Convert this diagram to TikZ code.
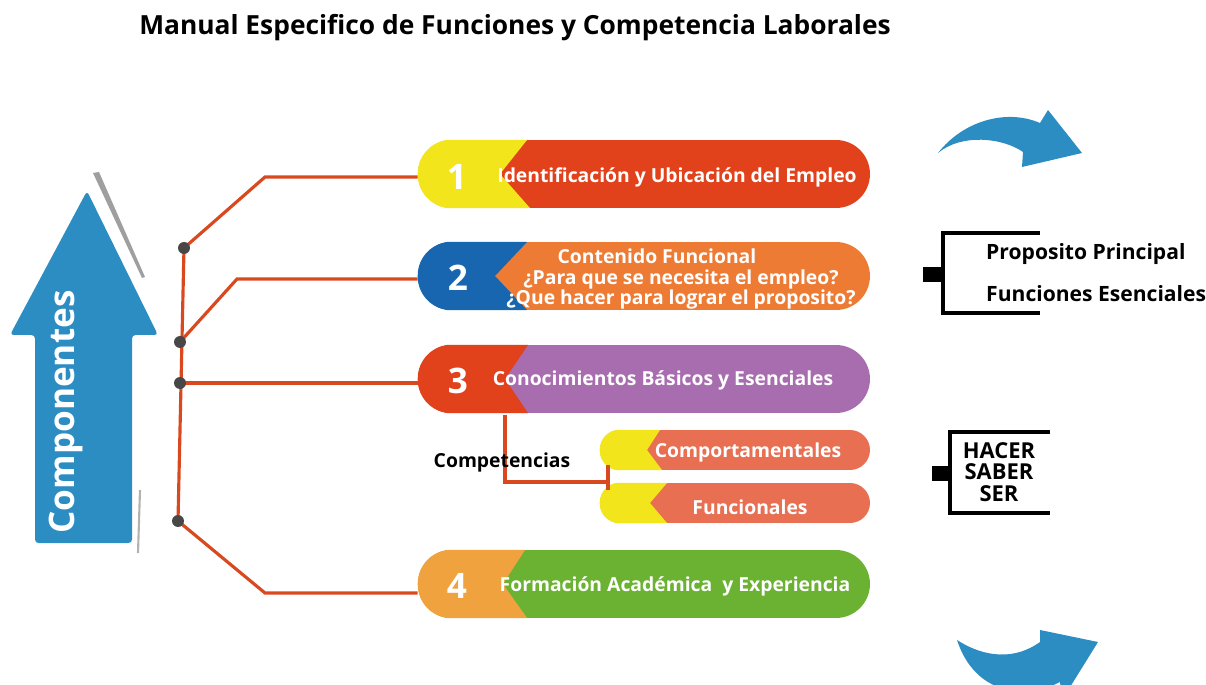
\documentclass[tikz,border=0pt]{standalone}
\usepackage{fontspec}
\setmainfont{Open Sans}
\usetikzlibrary{positioning}

\definecolor{yel}{HTML}{F3E51B}
\definecolor{redc}{HTML}{E1411B}
\definecolor{bluec}{HTML}{1866B0}
\definecolor{orangec}{HTML}{EE7B34}
\definecolor{purplec}{HTML}{A86DAF}
\definecolor{salmonc}{HTML}{E86F52}
\definecolor{ambar}{HTML}{F0A23F}
\definecolor{greenc}{HTML}{6BB232}
\definecolor{treered}{HTML}{D9491F}
\definecolor{dotgray}{HTML}{474747}
\definecolor{arrowblue}{HTML}{2C8DC3}

\begin{document}
\begin{tikzpicture}[
    x=0.02cm, y=-0.02cm,
    pill/.style={rectangle, rounded corners=0.68cm, minimum width=9.04cm, minimum height=1.36cm, inner sep=0pt},
    subpill/.style={pill, rounded corners=0.4cm, minimum width=5.4cm, minimum height=0.8cm},
    num/.style={text=white, font=\bfseries\fontsize{20}{20}\selectfont},
    ptext/.style={text=white, font=\bfseries\fontsize{11}{12.5}\selectfont, align=center},
    lbl/.style={text=black, font=\bfseries\fontsize{12}{14}\selectfont, align=center},
    tree/.style={draw=treered, line width=1.8pt},
    dot/.style={circle, fill=dotgray, inner sep=0pt, minimum size=0.24cm},
    brk/.style={draw=black, line width=1.8pt},
]
\useasboundingbox (0,0) rectangle (1206,685);

% Title
\node[font=\bfseries\fontsize{15}{17}\selectfont] (title) at (515,28) {Manual Especifico de Funciones y Competencia Laborales};

% Big arrow on the left
\fill[gray!75] (93,173) -- (99,172) -- (145,277) -- (142,278) -- cycle;
\draw[gray!60, line width=1.2pt] (140,490) -- (138,553);
\fill[arrowblue, rounded corners=2pt] (35,543) -- (35,335) -- (10,335) -- (87,191) -- (158,335) -- (132,335) -- (132,543) -- cycle;
\node[rotate=90, text=white, font=\bfseries\fontsize{20}{20}\selectfont] (comp) at (66,412) {Componentes};

% Pills
\node[pill, fill=redc] (p1) at (644,174) {};
\node[pill, fill=orangec] (p2) at (644,276) {};
\node[pill, fill=purplec] (p3) at (644,379) {};
\node[subpill, fill=salmonc] (s1) at (735,450) {};
\node[subpill, fill=salmonc] (s2) at (735,503) {};
\node[pill, fill=greenc] (p4) at (644,584) {};

% Left parts of the pills
\begin{scope}
  \clip[rounded corners=0.68cm] (p1.south west) rectangle (p1.north east);
  \fill[yel] (p1.north west) -- (527,140) -- (500,174) -- (530,208) -- (p1.south west) -- cycle;
\end{scope}
\begin{scope}
  \clip[rounded corners=0.68cm] (p2.south west) rectangle (p2.north east);
  \fill[bluec] (p2.north west) -- (527,242) -- (495,276) -- (527,310) -- (p2.south west) -- cycle;
\end{scope}
\begin{scope}
  \clip[rounded corners=0.68cm] (p3.south west) rectangle (p3.north east);
  \fill[redc] (p3.north west) -- (528,345) -- (505,379) -- (528,413) -- (p3.south west) -- cycle;
\end{scope}
\begin{scope}
  \clip[rounded corners=0.4cm] (s1.south west) rectangle (s1.north east);
  \fill[yel] (s1.north west) -- (660,430) -- (647,450) -- (662,470) -- (s1.south west) -- cycle;
\end{scope}
\begin{scope}
  \clip[rounded corners=0.4cm] (s2.south west) rectangle (s2.north east);
  \fill[yel] (s2.north west) -- (667,483) -- (650,503) -- (667,523) -- (s2.south west) -- cycle;
\end{scope}
\begin{scope}
  \clip[rounded corners=0.68cm] (p4.south west) rectangle (p4.north east);
  \fill[ambar] (p4.north west) -- (525,550) -- (503,584) -- (527,618) -- (p4.south west) -- cycle;
\end{scope}

% Numbers and texts
\node[num] (n1) at (457,177) {1};
\node[num] (n2) at (458,278) {2};
\node[num] (n3) at (458,381) {3};
\node[num] (n4) at (457,586) {4};
\node[ptext] (t1) at (677,177) {Identificación y Ubicación del Empleo};
\node[ptext, font=\bfseries\fontsize{11}{11.5}\selectfont] (t2) at (681,279) {Contenido Funcional\hspace*{0.96cm}\\¿Para que se necesita el empleo?\\¿Que hacer para lograr el proposito?};
\node[ptext] (t3) at (663,380) {Conocimientos Básicos y Esenciales};
\node[ptext] (t4) at (675,586) {Formación Académica~ y Experiencia};
\node[ptext] (t5) at (748,452) {Comportamentales};
\node[ptext] (t6) at (750,507) {Funcionales};

% Tree lines
\coordinate (d1) at (184,248);
\coordinate (d2) at (180,342);
\coordinate (d3) at (180,383);
\coordinate (d4) at (178,521);
\coordinate (k1) at (265,177);
\coordinate (k2) at (237,279);
\coordinate (k4) at (265,593);
\draw[tree] (d1) -- (d4);
\draw[tree] (d1) -- (k1) -- (p1.west |- k1);
\draw[tree] (d2) -- (k2) -- (p2.west |- k2);
\draw[tree] (d3) -- (p3.west |- d3);
\draw[tree] (d4) -- (k4) -- (p4.west |- k4);
\node[dot] (dot1) at (d1) {};
\node[dot] (dot2) at (d2) {};
\node[dot] (dot3) at (d3) {};
\node[dot] (dot4) at (d4) {};

% Competencias
\coordinate (c0) at (505,415);
\coordinate (c1) at (608,482);
\draw[tree] (c0) -- (c0 |- c1) -- (c1);
\draw[tree] (608,465) -- (608,490);
\node[lbl, font=\bfseries\fontsize{11}{13}\selectfont] (compet) at (502,462) {Competencias};

% Right brackets
\draw[brk] (1040,233) -- (943,233) -- (943,313) -- (1040,313);
\fill (923,267) rectangle (943,282);
\node[lbl, anchor=west] (prop) at (980,254) {Proposito Principal};
\node[lbl, anchor=west] (func) at (980,294) {Funciones Esenciales};

\draw[brk] (1050,432) -- (950,432) -- (950,513) -- (1050,513);
\fill (932,466) rectangle (950,481);
\node[lbl, font=\bfseries\fontsize{12.5}{12.2}\selectfont] (hss) at (999,472) {HACER\\SABER\\SER};

% Curved arrows
\fill[arrowblue] (938,153) .. controls (962,122) and (1005,108) .. (1040,123) -- (1048,110) -- (1082,153) -- (1022,167) -- (1023,152) .. controls (1003,138) and (962,133) .. (938,153) -- cycle;
\fill[arrowblue] (957,640) .. controls (985,658) and (1015,660) .. (1040,642) -- (1040,630) -- (1098,642) -- (1062,700) -- (1060,682) .. controls (1025,700) and (975,695) .. (957,640) -- cycle;

\end{tikzpicture}
\end{document}
